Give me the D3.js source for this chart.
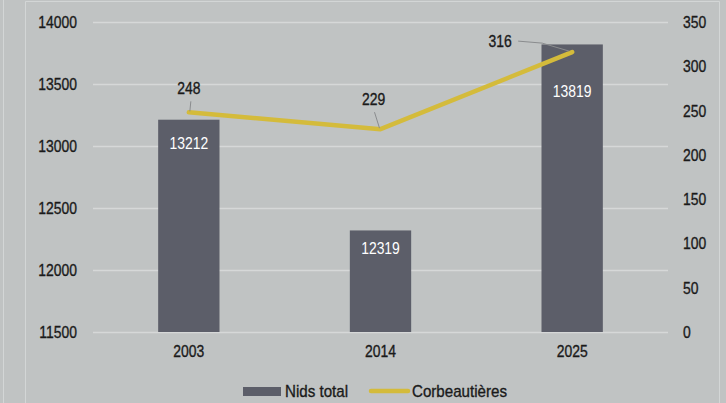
<!DOCTYPE html>
<html>
<head>
<meta charset="utf-8">
<script src="https://cdn.jsdelivr.net/npm/d3@7"></script>
<style>
  html, body { margin: 0; padding: 0; background: #c0c3c3; }
  svg { display: block; }
  text { font-family: "Liberation Sans", Arial, sans-serif; }
  .dark { stroke: #1a1a1a; stroke-width: 0.35px; }
</style>
</head>
<body>
<svg id="chart" width="726" height="403"></svg>
<script>
const categories = ["2003", "2014", "2025"];
const nidsTotal = [13212, 12319, 13819];
const corbeautieres = [248, 229, 316];
const leftTicks = [11500, 12000, 12500, 13000, 13500, 14000];
const rightTicks = [0, 50, 100, 150, 200, 250, 300, 350];
const seriesNames = ["Nids total", "Corbeautières"];
const barLabelDy = [23, 18, 47];

const W = 726, H = 403;
const FS = 17, NARROW = 0.82;
const svg = d3.select("#chart");

// emulate a narrow font: move x into a transform and squeeze horizontally
function narrow(sel, k) {
  sel.each(function () {
    const t = d3.select(this);
    const xv = +(t.attr("x") || 0);
    t.attr("x", 0).attr("transform", `translate(${xv},0) scale(${k},1)`);
  });
}

// frame
svg.append("rect").attr("width", W).attr("height", H).attr("fill", "#c0c3c3");
svg.append("line").attr("x1", 3.5).attr("x2", 3.5).attr("y1", 0).attr("y2", H)
  .attr("stroke", "#d3d6d6").attr("stroke-width", 1);
svg.append("path").attr("d", `M25.5,${H} V1.5 H719.5 V${H}`)
  .attr("fill", "none").attr("stroke", "#d3d6d6").attr("stroke-width", 1);

const x0 = 93, x1 = 668, yTop = 22, yBot = 332;
const x = d3.scaleBand().domain(categories).range([x0, x1]).paddingInner(0.68).paddingOuter(0.34);
const yL = d3.scaleLinear().domain([11500, 14000]).range([yBot, yTop]);
const yR = d3.scaleLinear().domain([0, 350]).range([yBot, yTop]);

// gridlines
svg.append("g").selectAll("line").data(leftTicks).join("line")
  .attr("x1", x0).attr("x2", x1)
  .attr("y1", d => Math.round(yL(d)) + 0.5).attr("y2", d => Math.round(yL(d)) + 0.5)
  .attr("stroke", "#d6d8d8").attr("stroke-width", 1.5);

function styleAxis(g) {
  g.select(".domain").remove();
  g.selectAll("text").attr("font-size", FS).attr("fill", "#1a1a1a").attr("class", "dark")
    .style("font-family", '"Liberation Sans", Arial, sans-serif');
  narrow(g.selectAll("text"), NARROW);
}

// left axis
const axL = svg.append("g").attr("transform", `translate(${x0},0)`)
  .call(d3.axisLeft(yL).tickValues(leftTicks).tickFormat(d3.format("d")).tickSize(0).tickPadding(16));
styleAxis(axL);

// right axis
const axR = svg.append("g").attr("transform", `translate(${x1},0)`)
  .call(d3.axisRight(yR).tickValues(rightTicks).tickFormat(d3.format("d")).tickSize(0).tickPadding(15));
styleAxis(axR);

// bottom axis
const axB = svg.append("g").attr("transform", `translate(0,${yBot})`)
  .call(d3.axisBottom(x).tickSize(0).tickPadding(13));
styleAxis(axB);

// bars
svg.append("g").selectAll("rect").data(nidsTotal).join("rect")
  .attr("x", (d, i) => x(categories[i]))
  .attr("width", x.bandwidth())
  .attr("y", d => yL(d))
  .attr("height", d => yBot - yL(d))
  .attr("fill", "#5c5e69");

// bar labels
const bl = svg.append("g").selectAll("text").data(nidsTotal).join("text")
  .attr("x", (d, i) => x(categories[i]) + x.bandwidth() / 2)
  .attr("y", (d, i) => yL(d) + barLabelDy[i])
  .attr("dy", "0.35em")
  .attr("text-anchor", "middle")
  .attr("font-size", FS).attr("fill", "#ffffff")
  .text(d => d);
narrow(bl, NARROW);

// line
const cx = (i) => x(categories[i]) + x.bandwidth() / 2;
const line = d3.line().x((d, i) => cx(i)).y(d => yR(d));
svg.append("path").datum(corbeautieres)
  .attr("d", line)
  .attr("fill", "none").attr("stroke", "#d4bb3b").attr("stroke-width", 4.5)
  .attr("stroke-linecap", "round").attr("stroke-linejoin", "round");

// line labels with leaders
const lbl = [
  { dx: 0, dy: -24, leader: (px, py) => `M${px + 1},${py - 1} L${px + 2},${py - 11}` },
  { dx: -7, dy: -30, leader: (px, py) => `M${px - 1},${py - 1} L${px - 6},${py - 17}` },
  { dx: -72, dy: -11, leader: (px, py) => `M${px - 3},${py - 1} L${px - 30},${py - 9} L${px - 54},${py - 11}` }
];
const lg = svg.append("g");
corbeautieres.forEach((v, i) => {
  const px = cx(i), py = yR(v);
  lg.append("path").attr("d", lbl[i].leader(px, py))
    .attr("fill", "none").attr("stroke", "#8a8c8e").attr("stroke-width", 1);
  const t = lg.append("text").attr("x", px + lbl[i].dx).attr("y", py + lbl[i].dy)
    .attr("dy", "0.35em").attr("text-anchor", "middle").attr("class", "dark")
    .attr("font-size", FS).attr("fill", "#1a1a1a").text(v);
  narrow(t, NARROW);
});

// legend
const leg = svg.append("g");
leg.append("rect").attr("x", 243).attr("y", 387).attr("width", 38).attr("height", 9).attr("fill", "#5c5e69");
const lt1 = leg.append("text").attr("x", 285).attr("y", 391.5).attr("dy", "0.35em").attr("class", "dark")
  .attr("font-size", FS).attr("fill", "#1a1a1a").text(seriesNames[0]);
leg.append("line").attr("x1", 371).attr("x2", 408).attr("y1", 391).attr("y2", 391)
  .attr("stroke", "#d4bb3b").attr("stroke-width", 4.5).attr("stroke-linecap", "round");
const lt2 = leg.append("text").attr("x", 412).attr("y", 391.5).attr("dy", "0.35em").attr("class", "dark")
  .attr("font-size", FS).attr("fill", "#1a1a1a").text(seriesNames[1]);
narrow(lt1, 0.89);
narrow(lt2, 0.89);
</script>
</body>
</html>
